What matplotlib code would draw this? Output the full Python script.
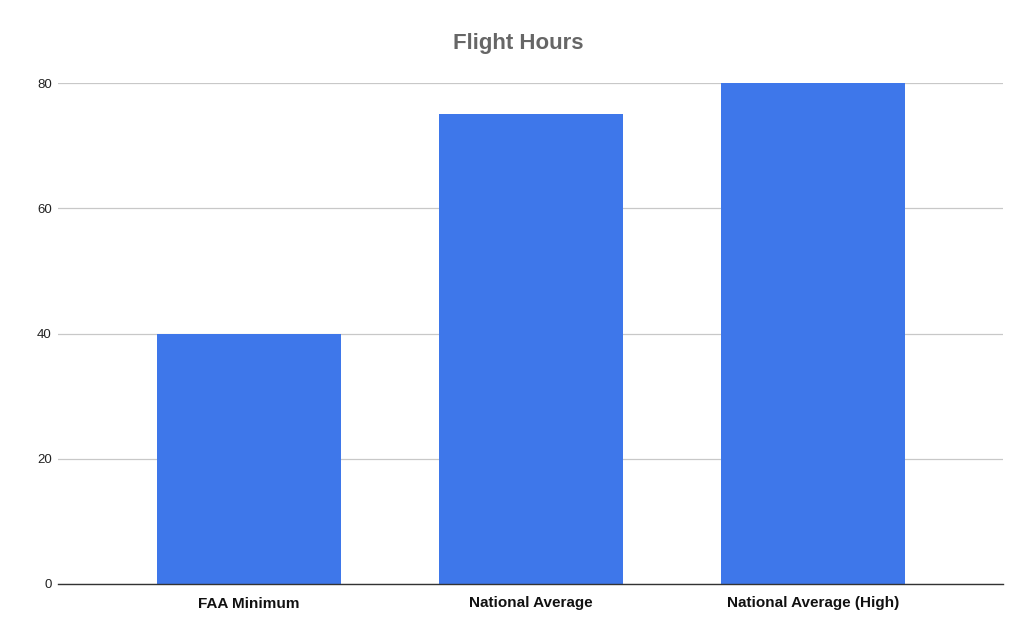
import matplotlib
matplotlib.use("Agg")
import matplotlib.pyplot as plt

categories = ["FAA Minimum", "National Average", "National Average (High)"]
values = [40, 75, 80]
yticks = [0, 20, 40, 60, 80]

plt.rcParams['font.family'] = ['Liberation Sans', 'DejaVu Sans']

fig = plt.figure(figsize=(10.36, 6.4), dpi=100)
ax = fig.add_axes([58/1036, 1-584/640, (1003-58)/1036, (584-83)/640])

x = range(len(categories))
ax.bar(x, values, width=0.652, color="#3e77ea", zorder=3)
ax.set_xlim(-0.677, 2.674)
ax.set_ylim(0, 80)
ax.set_yticks(yticks)
ax.set_yticklabels([str(t) for t in yticks], fontsize=9.5, color="#222222")
ax.set_xticks(list(x))
ax.set_xticklabels(categories, fontsize=11, fontweight="bold", color="#111111")
ax.tick_params(axis='both', length=0)
ax.tick_params(axis='y', pad=4.5)
ax.tick_params(axis='x', pad=9)
ax.grid(axis='y', color="#c8c8c8", linewidth=0.9, zorder=0)
for s in ["top", "right", "left"]:
    ax.spines[s].set_visible(False)
ax.spines["bottom"].set_color("#333333")
ax.spines["bottom"].set_linewidth(1.0)
ax.spines["bottom"].set_zorder(4)

fig.text(518/1036, 1-43/640, "Flight Hours", ha="center", va="center",
         fontsize=16, fontweight="bold", color="#666666")

fig.savefig("out.png", dpi=100)
